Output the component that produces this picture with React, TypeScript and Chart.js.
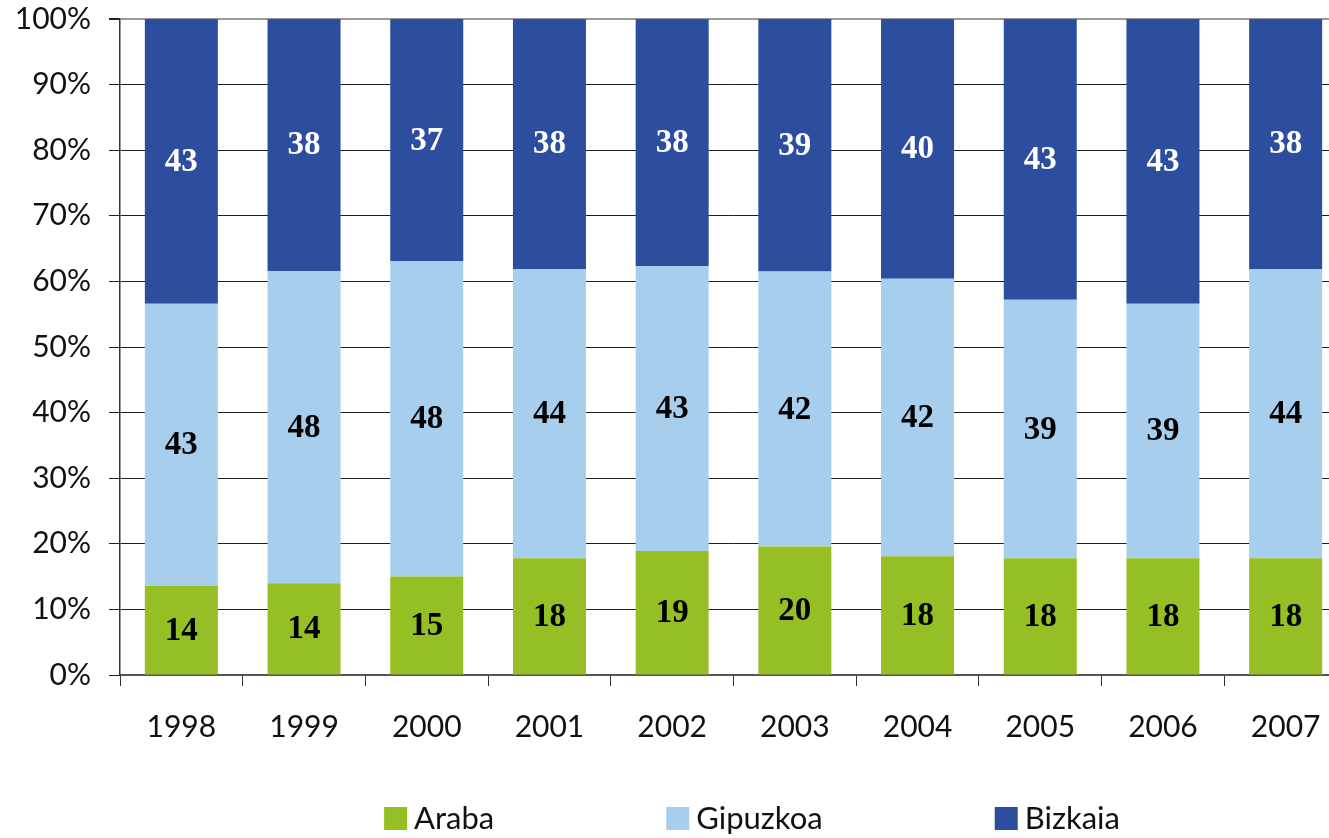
import { useEffect, useRef } from 'react';
import { Chart, registerables } from 'chart.js';

Chart.register(...registerables);

const years = ['1998', '1999', '2000', '2001', '2002', '2003', '2004', '2005', '2006', '2007'];
const seriesNames = ['Araba', 'Gipuzkoa', 'Bizkaia'];
const araba = [13.6, 14.0, 15.0, 17.8, 18.9, 19.6, 18.1, 17.8, 17.8, 17.8];
const gipuzkoa = [43.0, 47.6, 48.1, 44.1, 43.4, 41.9, 42.3, 39.4, 38.8, 44.1];
const bizkaia = [43.4, 38.4, 36.9, 38.1, 37.7, 38.5, 39.6, 42.8, 43.4, 38.1];
const yTicks = [0, 10, 20, 30, 40, 50, 60, 70, 80, 90, 100];

const colors = ['#95BF24', '#A7CEED', '#2D4E9E'];
const labelColors = ['#000000', '#000000', '#FFFFFF'];

const valueLabels = {
  id: 'valueLabels',
  afterDatasetsDraw(chart: any) {
    const ctx = chart.ctx;
    ctx.save();
    ctx.font = 'bold 33px "Liberation Serif"';
    ctx.textAlign = 'center';
    ctx.textBaseline = 'middle';
    chart.data.datasets.forEach((ds: any, i: number) => {
      const meta = chart.getDatasetMeta(i);
      meta.data.forEach((bar: any, j: number) => {
        const p = bar.getCenterPoint();
        ctx.fillStyle = labelColors[i];
        ctx.fillText(String(Math.round(ds.data[j])), p.x, p.y + 1);
      });
    });
    ctx.restore();
  },
};

const customLegend = {
  id: 'customLegend',
  afterDraw(chart: any) {
    const ctx = chart.ctx;
    ctx.save();
    ctx.font = '31px Lato';
    ctx.textBaseline = 'middle';
    ctx.textAlign = 'left';
    const box = 23;
    const gap = 7;
    const spacing = 172;
    const centerX = 752;
    const centerY = 818.5;
    const ds = chart.data.datasets;
    const widths = ds.map((d: any) => ctx.measureText(d.label).width);
    const total = widths.reduce((a: number, w: number) => a + box + gap + w, 0) + spacing * (ds.length - 1);
    let x = centerX - total / 2;
    ds.forEach((d: any, i: number) => {
      ctx.fillStyle = d.backgroundColor;
      ctx.fillRect(x, centerY - box / 2, box, box);
      ctx.fillStyle = '#111';
      ctx.fillText(d.label, x + box + gap, centerY);
      x += box + gap + widths[i] + spacing;
    });
    ctx.restore();
  },
};

export default function App() {
  const ref = useRef<HTMLCanvasElement | null>(null);

  useEffect(() => {
    if (!ref.current) return;
    const seriesData = [araba, gipuzkoa, bizkaia];
    const chart = new Chart(ref.current, {
      type: 'bar',
      data: {
        labels: years,
        datasets: seriesData.map((d, i) => ({
          label: seriesNames[i],
          data: d,
          backgroundColor: colors[i],
          borderWidth: 0,
          barPercentage: 0.595,
          categoryPercentage: 1,
        })),
      },
      options: {
        responsive: false,
        animation: false,
        devicePixelRatio: 1,
        layout: { padding: { left: 0, right: 5, top: 19, bottom: 0 } },
        plugins: {
          legend: { display: false },
          tooltip: { enabled: false },
        },
        scales: {
          x: {
            stacked: true,
            offset: true,
            grid: {
              display: true,
              drawOnChartArea: false,
              drawTicks: true,
              tickLength: 11,
              color: '#333',
              offset: true,
            },
            border: { display: true, color: '#555', width: 2 },
            ticks: {
              font: { family: 'Lato', size: 30 },
              color: '#111',
              padding: 23,
              maxRotation: 0,
              autoSkip: false,
            },
            afterFit: (s: any) => {
              s.height = 163;
            },
          },
          y: {
            stacked: true,
            min: 0,
            max: 100,
            afterBuildTicks: (s: any) => {
              s.ticks = yTicks.map((v) => ({ value: v }));
            },
            grid: {
              color: (c: any) => (c.tick && c.tick.value === 100 ? '#9a9a9a' : c.tick && c.tick.value === 0 ? '#555' : '#1e1e1e'),
              lineWidth: (c: any) => (c.tick && c.tick.value === 100 ? 2 : 1),
              tickColor: '#222',
              tickLength: 11,
            },
            border: { display: true, color: '#333', width: 1.5 },
            ticks: {
              font: { family: 'Lato', size: 30 },
              color: '#111',
              padding: 18,
              callback: (v: any) => v + '%',
            },
            afterFit: (s: any) => {
              s.width = 120;
              s.paddingTop = 0;
              s.paddingBottom = 0;
            },
          },
        },
      },
      plugins: [valueLabels, customLegend],
    });
    return () => chart.destroy();
  }, []);

  return (
    <div
      style={{
        position: 'absolute',
        left: 0,
        top: 0,
        width: 1329,
        height: 838,
        overflow: 'hidden',
        background: '#fff',
      }}
    >
      <canvas ref={ref} width={1352} height={838} style={{ display: 'block', width: 1352, height: 838 }} />
    </div>
  );
}
